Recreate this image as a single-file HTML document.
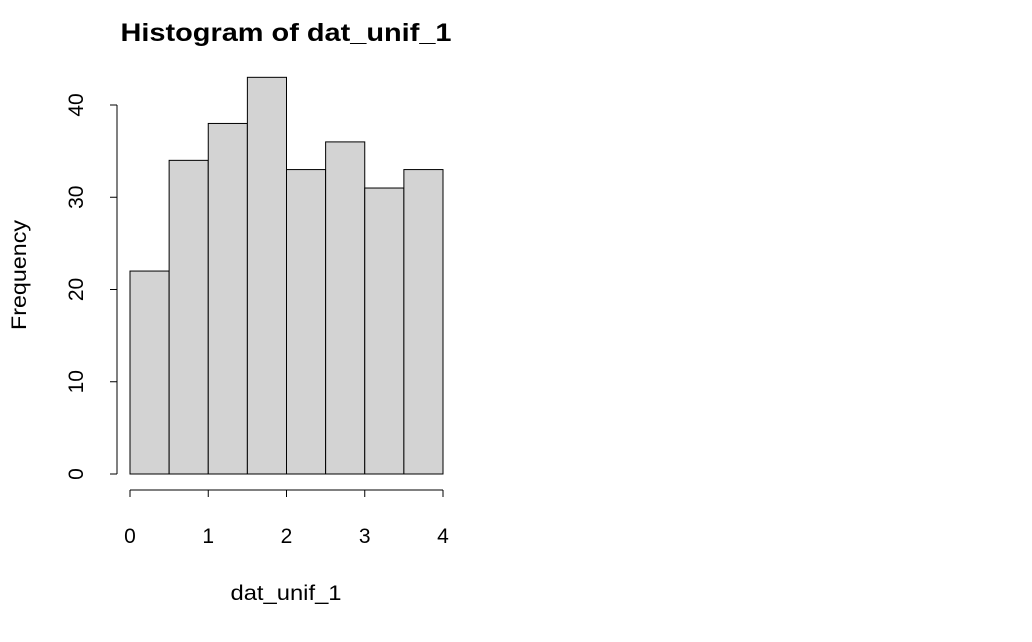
<!DOCTYPE html>
<html><head><meta charset="utf-8"><style>
body{margin:0;background:#fff;}
svg text{font-family:"Liberation Sans",Arial,sans-serif;fill:#000;}
</style></head><body>
<svg id="chart" width="1032" height="637" xmlns="http://www.w3.org/2000/svg">
<rect width="1032" height="637" fill="#fff"/>
<text x="286" y="41" font-size="25" font-weight="bold" text-anchor="middle" textLength="331" lengthAdjust="spacingAndGlyphs">Histogram of dat_unif_1</text>
<text x="286" y="600" font-size="21" text-anchor="middle" textLength="111" lengthAdjust="spacingAndGlyphs">dat_unif_1</text>
<text transform="translate(26,275) rotate(-90)" font-size="21" text-anchor="middle" textLength="110" lengthAdjust="spacingAndGlyphs">Frequency</text>
<g id="bars"></g><g id="xaxis"></g><g id="yaxis"></g>
</svg>
<script>
const breaks=[0,0.5,1,1.5,2,2.5,3,3.5,4];
const counts=[22,34,38,43,33,36,31,33];
const xTicks=[0,1,2,3,4];
const yTicks=[0,10,20,30,40];
const ns="http://www.w3.org/2000/svg";
const X=v=>130+v*(443-130)/4;
const Y=v=>474-v*(474-105)/40;
function mk(t,a,p){const e=document.createElementNS(ns,t);for(const k in a)e.setAttribute(k,a[k]);p.appendChild(e);return e;}
const bars=document.getElementById('bars');
counts.forEach((c,i)=>{
 const r=mk('rect',{x:X(breaks[i]),y:Y(c),width:X(breaks[i+1])-X(breaks[i]),height:Y(0)-Y(c),fill:'#d3d3d3',stroke:'#000','stroke-width':1},bars);
 
 
});
const xa=document.getElementById('xaxis');


mk('line',{x1:X(xTicks[0]),x2:X(xTicks[xTicks.length-1]),y1:490,y2:490,stroke:'#000'},xa);
xTicks.forEach(t=>{
 mk('line',{x1:X(t),x2:X(t),y1:490,y2:497,stroke:'#000'},xa);
 const tx=mk('text',{x:X(t),y:543,'font-size':21,'text-anchor':'middle'},xa);tx.textContent=t;
 
 
});
const ya=document.getElementById('yaxis');


mk('line',{x1:117,x2:117,y1:Y(yTicks[0]),y2:Y(yTicks[yTicks.length-1]),stroke:'#000'},ya);
yTicks.forEach(t=>{
 mk('line',{x1:110,x2:117,y1:Y(t),y2:Y(t),stroke:'#000'},ya);
 const tx=mk('text',{transform:`translate(83,${Y(t)}) rotate(-90)`,'font-size':21,'text-anchor':'middle'},ya);tx.textContent=t;
 
 
});
</script>
</body></html>
